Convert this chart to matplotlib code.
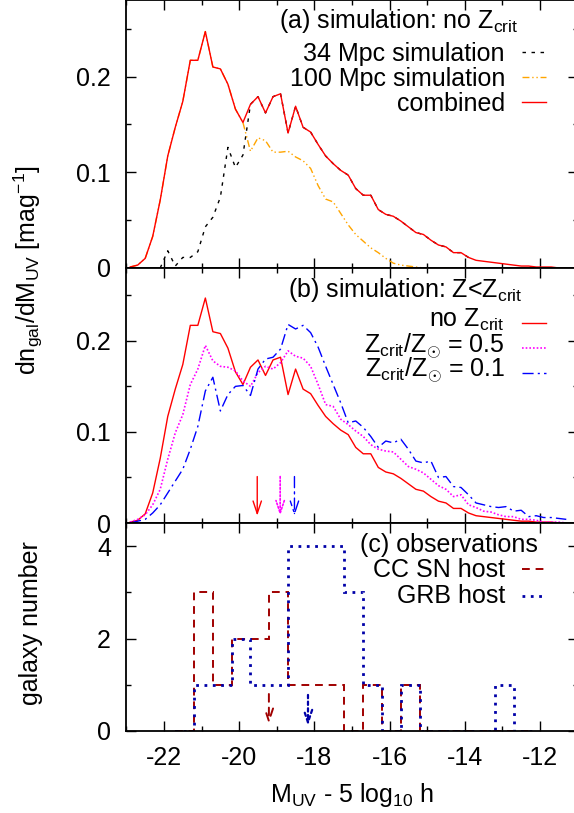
import numpy as np
import matplotlib
matplotlib.use("Agg")
import matplotlib.pyplot as plt
from matplotlib.lines import Line2D
from matplotlib.ticker import MultipleLocator

plt.rcParams['font.family'] = ['Liberation Sans', 'DejaVu Sans']
plt.rcParams['mathtext.fontset'] = 'custom'
plt.rcParams['mathtext.rm'] = 'Liberation Sans'
plt.rcParams['font.size'] = 18
plt.rcParams['axes.unicode_minus'] = False

# --- Simulated UV luminosity functions (0.2 mag bins) ---
mag = np.round(np.arange(-22.9, -11.2, 0.2), 1)

combined = [0.001, 0.003, 0.010, 0.033, 0.071, 0.117, 0.147, 0.174, 0.217, 0.217,
            0.247, 0.210, 0.208, 0.192, 0.166, 0.152, 0.171, 0.179, 0.162, 0.179,
            0.182, 0.141, 0.169, 0.147, 0.142, 0.129, 0.117, 0.109, 0.102, 0.097,
            0.083, 0.076, 0.076, 0.061, 0.056, 0.054, 0.049, 0.043, 0.037, 0.035,
            0.029, 0.024, 0.022, 0.016, 0.016, 0.011, 0.008, 0.007, 0.006, 0.005,
            0.004, 0.003, 0.002, 0.002, 0.001, 0.001, 0.001, 0.000, 0.000]

# 34 Mpc box only covers -22.1 ... -14.1
sim34_mag = mag[4:46]
sim34 = [0.000, 0.018, 0.002, 0.011, 0.011, 0.017, 0.043, 0.053, 0.074, 0.126,
         0.105, 0.118, 0.171, 0.179, 0.162, 0.179, 0.182, 0.141, 0.169, 0.147,
         0.142, 0.129, 0.117, 0.109, 0.102, 0.097, 0.083, 0.076, 0.076, 0.061,
         0.056, 0.054, 0.049, 0.043, 0.037, 0.035, 0.029, 0.024, 0.022, 0.016,
         0.016, 0.011]

sim100 = [0.001, 0.003, 0.010, 0.033, 0.071, 0.117, 0.147, 0.174, 0.217, 0.217,
          0.247, 0.210, 0.208, 0.192, 0.166, 0.152, 0.122, 0.136, 0.133, 0.121,
          0.121, 0.122, 0.116, 0.112, 0.104, 0.086, 0.072, 0.069, 0.057, 0.045,
          0.035, 0.028, 0.021, 0.016, 0.010, 0.005, 0.003, 0.002, 0.001, 0.000,
          0.000, 0.000, 0.000, 0.000, 0.000, 0.000, 0.000, 0.000, 0.000, 0.000,
          0.000, 0.000, 0.000, 0.000, 0.000, 0.000, 0.000, 0.000, 0.000]

zcrit_05 = [0.001, 0.004, 0.009, 0.020, 0.037, 0.070, 0.099, 0.119, 0.152, 0.169,
            0.195, 0.178, 0.172, 0.171, 0.167, 0.156, 0.150, 0.165, 0.172, 0.169,
            0.176, 0.189, 0.183, 0.181, 0.172, 0.152, 0.130, 0.128, 0.114, 0.108,
            0.101, 0.095, 0.086, 0.081, 0.079, 0.078, 0.070, 0.062, 0.059, 0.055,
            0.048, 0.041, 0.037, 0.029, 0.031, 0.020, 0.017, 0.013, 0.012, 0.009,
            0.007, 0.007, 0.004, 0.004, 0.003, 0.001, 0.001, 0.001, 0.000]

zcrit_01 = [0.000, 0.002, 0.004, 0.011, 0.020, 0.033, 0.046, 0.059, 0.081, 0.106,
            0.145, 0.160, 0.123, 0.141, 0.150, 0.151, 0.140, 0.169, 0.180, 0.182,
            0.191, 0.218, 0.213, 0.217, 0.209, 0.193, 0.172, 0.152, 0.132, 0.110,
            0.112, 0.105, 0.095, 0.083, 0.090, 0.088, 0.092, 0.081, 0.068, 0.066,
            0.068, 0.050, 0.051, 0.040, 0.039, 0.031, 0.022, 0.020, 0.018, 0.017,
            0.018, 0.013, 0.014, 0.007, 0.008, 0.006, 0.006, 0.005, 0.004]

# medians of the three simulated distributions
sim_median = [-19.52, -18.91, -18.53]

# --- Observed host galaxies (0.5 mag bins) ---
obs_edges = [-21.7, -21.2, -20.7, -20.2, -19.7, -19.2, -18.7, -18.2, -17.7, -17.2,
             -16.7, -16.2, -15.7, -15.2, -14.7, -14.2, -13.7, -13.2, -12.7, -12.2]
ccsn_counts = [0, 3, 1, 2, 2, 3, 1, 1, 1, 0, 1, 0, 1, 0, 0, 0, 0, 0, 0]
grb_counts = [0, 1, 1, 2, 1, 1, 4, 4, 4, 3, 1, 0, 1, 0, 0, 0, 0, 1, 0]
obs_median = [-19.21, -18.17]

# line styles
s34 = dict(color='black', lw=1.0, linestyle=(0, (2.5, 4)))
s100 = dict(color='#ffa500', lw=1.0, linestyle=(0, (5, 2, 1, 2, 1, 2)))
sred = dict(color='#ff0000', lw=1.0, linestyle='-')
smag = dict(color='#ff00ff', lw=1.2, linestyle=(0, (1, 1.2)))
sblue = dict(color='#0000ff', lw=1.0, linestyle=(0, (8, 3, 1.5, 3)))
sccsn = dict(color='#a00000', lw=1.4, linestyle=(0, (4, 3)))
sgrb = dict(color='#0000a8', lw=2.0, linestyle=(0, (1, 2)))


def key(ax, rows, x_text=0.839, x0=0.876, x1=0.930):
    # gnuplot-like key: right-aligned label, short sample line on the right
    for label, y_line, y_text, style in rows:
        ax.text(x_text, y_text, label, ha='right', va='baseline', transform=ax.transAxes)
        ax.add_line(Line2D([x0, x1], [y_line, y_line], transform=ax.transAxes, **style))


def arrow(ax, x, y0, y1, style):
    ax.annotate('', xy=(x, y1), xytext=(x, y0),
                arrowprops=dict(arrowstyle='->,head_length=0.9,head_width=0.3',
                                mutation_scale=10, shrinkA=0, shrinkB=0,
                                color=style['color'], lw=style['lw'],
                                linestyle=style['linestyle']))


def style_axis(ax, ymajor, yminor):
    ax.set_xlim(-23, -11)
    ax.xaxis.set_major_locator(MultipleLocator(2))
    ax.xaxis.set_minor_locator(MultipleLocator(1))
    ax.yaxis.set_major_locator(MultipleLocator(ymajor))
    ax.yaxis.set_minor_locator(MultipleLocator(yminor))
    ax.tick_params(which='both', direction='in', top=True, right=True, width=1.0)
    ax.tick_params(which='major', length=7, pad=11)
    ax.tick_params(which='minor', length=3.5)
    for sp in ax.spines.values():
        sp.set_linewidth(1.3)


fig = plt.figure(figsize=(5.74, 8.13), dpi=100)
ax_a = fig.add_axes([0.2202, 0.6704, 0.786, 0.3296])
ax_b = fig.add_axes([0.2202, 0.3567, 0.786, 0.3137])
ax_c = fig.add_axes([0.2202, 0.1009, 0.786, 0.2558])

# --- (a) simulation without metallicity cut ---
ax_a.plot(sim34_mag, sim34, **s34)
ax_a.plot(mag, sim100, **s100)
ax_a.plot(mag, combined, **sred)
ax_a.set_ylim(0, 0.28)
style_axis(ax_a, 0.1, 0.05)
ax_a.set_yticks([0, 0.1, 0.2], ['0', '0.1', '0.2'])
ax_a.tick_params(labelbottom=False)
ax_a.text(0.868, 0.896, r'(a) simulation: no Z$_{\mathrm{crit}}$', ha='right',
          va='baseline', transform=ax_a.transAxes)
key(ax_a, [('34 Mpc simulation', 0.806, 0.772, s34),
           ('100 Mpc simulation', 0.713, 0.679, s100),
           ('combined', 0.619, 0.586, sred)])

# --- (b) simulation with metallicity cut ---
ax_b.plot(mag, combined, **sred)
ax_b.plot(mag, zcrit_05, **smag)
ax_b.plot(mag, zcrit_01, **sblue)
for xm, st in zip(sim_median, [sred, smag, sblue]):
    arrow(ax_b, xm, 0.051, 0.008, st)
ax_b.set_ylim(0, 0.28)
style_axis(ax_b, 0.1, 0.05)
ax_b.set_yticks([0, 0.1, 0.2], ['0', '0.1', '0.2'])
ax_b.tick_params(labelbottom=False)
ax_b.text(0.879, 0.887, r'(b) simulation: Z<Z$_{\mathrm{crit}}$', ha='right',
          va='baseline', transform=ax_b.transAxes)
key(ax_b, [(r'no Z$_{\mathrm{crit}}$', 0.783, 0.769, sred),
           (r'Z$_{\mathrm{crit}}$/Z$_{\odot}$ = 0.5', 0.685, 0.668, smag),
           (r'Z$_{\mathrm{crit}}$/Z$_{\odot}$ = 0.1', 0.587, 0.571, sblue)])

# --- (c) observed host galaxies ---
ax_c.stairs(ccsn_counts, obs_edges, **sccsn)
ax_c.stairs(grb_counts, obs_edges, **sgrb)
arrow(ax_c, obs_median[0], 0.80, 0.15, sccsn)
arrow(ax_c, obs_median[1], 0.78, 0.11, dict(sgrb, lw=1.6, linestyle=(0, (1.5, 1.5))))
ax_c.set_ylim(0, 4.5)
style_axis(ax_c, 2, 1)
ax_c.text(0.912, 0.859, '(c) observations', ha='right', va='baseline',
          transform=ax_c.transAxes)
key(ax_c, [('CC SN host', 0.777, 0.742, sccsn),
           ('GRB host', 0.649, 0.617, sgrb)])

fig.text(0.05, 0.668, r'dn$_{\mathrm{gal}}$/dM$_{\mathrm{UV}}$ [mag$^{-1}$]',
         rotation=90, ha='center', va='center')
fig.text(0.054, 0.234, 'galaxy number', rotation=90, ha='center', va='center')
fig.text(0.613, 0.0135, r'M$_{\mathrm{UV}}$ - 5 log$_{10}$ h', ha='center', va='baseline')

fig.savefig('out.png', dpi=100)
